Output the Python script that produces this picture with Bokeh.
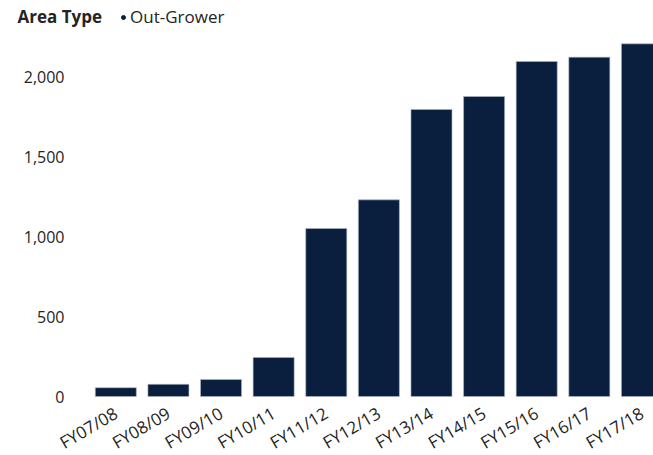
import numpy as np
from bokeh.plotting import figure
from bokeh.models import Range1d, FixedTicker, Legend, LegendItem, Label, NumeralTickFormatter, ColumnDataSource
from bokeh.embed import file_html
from bokeh.resources import INLINE

categories = ["FY07/08", "FY08/09", "FY09/10", "FY10/11", "FY11/12", "FY12/13",
              "FY13/14", "FY14/15", "FY15/16", "FY16/17", "FY17/18"]
values = [55, 76, 106, 244, 1050, 1229, 1794, 1875, 2094, 2121, 2204]
series_name = "Out-Grower"
legend_title = "Area Type"
y_ticks = [0, 500, 1000, 1500, 2000]

BAR = "#0a1f3e"
TXT = "#252423"
FONT = "Open Sans"

idx = list(range(len(categories)))
src = ColumnDataSource(dict(x=idx, top=values))

# frame spans the whole canvas; both axes are drawn at fixed positions inside it
X_START = -0.5 - 89.0 / 52.6
Y_START = -59.0 / 0.16
p = figure(width=653, height=455, output_backend="svg", toolbar_location=None,
           x_range=Range1d(X_START, 10.22), y_range=Range1d(Y_START, 2475),
           min_border_left=0, min_border_bottom=0, min_border_top=0, min_border_right=0)
p.outline_line_color = None
p.grid.visible = False
p.background_fill_color = "white"
p.border_fill_color = "white"

r = p.vbar(x="x", top="top", bottom=0, width=0.78, source=src, fill_color=BAR,
           line_color="#b0b8c4", line_width=0.6)
# legend swatch (circle marker; its single point is NaN so nothing is drawn in the plot)
sw_src = ColumnDataSource(dict(x=np.array([0.0]), y=np.array([np.nan])))
sw = p.scatter(x="x", y="y", source=sw_src, marker="circle", size=10,
               fill_color=BAR, line_color=BAR)

p.yaxis.fixed_location = -0.5
p.yaxis.ticker = FixedTicker(ticks=y_ticks)
p.yaxis.formatter = NumeralTickFormatter(format="0,0")
p.yaxis.axis_line_color = None
p.yaxis.major_tick_line_color = None
p.yaxis.minor_tick_line_color = None
p.yaxis.major_label_standoff = 19
p.yaxis.major_label_text_font = FONT
p.yaxis.major_label_text_font_size = "16px"
p.yaxis.major_label_text_color = TXT

p.xaxis.fixed_location = 0
p.xaxis.ticker = FixedTicker(ticks=idx)
p.xaxis.major_label_overrides = {i: c for i, c in enumerate(categories)}
p.xaxis.axis_line_color = None
p.xaxis.major_tick_line_color = None
p.xaxis.minor_tick_line_color = None
p.xaxis.major_label_orientation = 0.53
p.xaxis.major_label_standoff = 9
p.xaxis.major_label_text_line_height = 0.9
p.xaxis.major_label_text_font = FONT
p.xaxis.major_label_text_font_size = "17px"
p.xaxis.major_label_text_color = TXT

legend = Legend(items=[LegendItem(label=series_name, renderers=[sw])],
                orientation="horizontal", location=(118, 427),
                glyph_width=10, glyph_height=10, label_standoff=2,
                label_text_font=FONT, label_text_font_size="17px", label_text_color=TXT,
                border_line_color=None, background_fill_alpha=0, padding=0, margin=0)
p.add_layout(legend)

title_lbl = Label(x=17, y=439, x_units="screen", y_units="screen", text=legend_title,
                  text_font=FONT, text_font_size="17px", text_font_style="bold",
                  text_color=TXT, text_baseline="middle")
p.add_layout(title_lbl)

open("out.html", "w").write(file_html(p, INLINE))
